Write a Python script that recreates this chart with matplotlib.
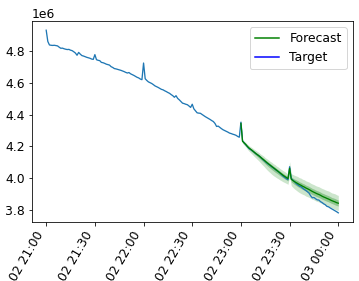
import matplotlib
matplotlib.use("Agg")
import matplotlib.pyplot as plt
import matplotlib.dates as mdates
from matplotlib.lines import Line2D
import pandas as pd
import numpy as np

plt.rcParams["font.size"] = 12.4

start = "2021-01-02 21:00"
fc_start = "2021-01-02 23:00"

target = [
    4.933, 4.862, 4.840, 4.838, 4.837, 4.838, 4.836, 4.834, 4.826, 4.819,
    4.820, 4.816, 4.813, 4.811, 4.812, 4.807, 4.804, 4.797, 4.789, 4.775,
    4.793, 4.782, 4.773, 4.770, 4.766, 4.762, 4.759, 4.756, 4.751, 4.749,
    4.779, 4.747, 4.743, 4.741, 4.730, 4.728, 4.724, 4.719, 4.716, 4.713,
    4.703, 4.698, 4.691, 4.689, 4.686, 4.683, 4.680, 4.676, 4.672, 4.667,
    4.663, 4.666, 4.658, 4.653, 4.648, 4.642, 4.636, 4.632, 4.625, 4.621,
    4.726, 4.627, 4.616, 4.607, 4.602, 4.597, 4.590, 4.582, 4.577, 4.572,
    4.566, 4.560, 4.557, 4.551, 4.546, 4.540, 4.535, 4.527, 4.520, 4.510,
    4.520, 4.503, 4.494, 4.483, 4.473, 4.470, 4.466, 4.463, 4.455, 4.446,
    4.466, 4.437, 4.425, 4.412, 4.410, 4.409, 4.402, 4.395, 4.388, 4.382,
    4.376, 4.370, 4.363, 4.357, 4.345, 4.326, 4.328, 4.320, 4.312, 4.305,
    4.300, 4.295, 4.290, 4.284, 4.281, 4.277, 4.274, 4.270, 4.263, 4.258,
    4.353, 4.235, 4.222, 4.210, 4.198, 4.186, 4.180, 4.172, 4.165, 4.155,
    4.148, 4.142, 4.132, 4.122, 4.113, 4.104, 4.095, 4.087, 4.080, 4.071,
    4.064, 4.056, 4.048, 4.041, 4.032, 4.022, 4.012, 4.004, 3.996, 3.990,
    4.072, 3.998, 3.988, 3.978, 3.966, 3.958, 3.950, 3.946, 3.937, 3.929,
    3.922, 3.914, 3.905, 3.888, 3.876, 3.878, 3.870, 3.863, 3.862, 3.852,
    3.846, 3.838, 3.832, 3.822, 3.819, 3.812, 3.806, 3.800, 3.794, 3.788,
    3.781,
]

forecast_median = [
    4.345, 4.232, 4.222, 4.212, 4.200, 4.190, 4.182, 4.174, 4.165, 4.157,
    4.149, 4.141, 4.133, 4.124, 4.116, 4.107, 4.098, 4.090, 4.082, 4.074,
    4.066, 4.058, 4.050, 4.042, 4.034, 4.026, 4.018, 4.011, 4.004, 3.997,
    4.062, 3.993, 3.985, 3.978, 3.972, 3.966, 3.960, 3.955, 3.949, 3.944,
    3.938, 3.933, 3.928, 3.922, 3.916, 3.911, 3.906, 3.901, 3.897, 3.892,
    3.886, 3.881, 3.877, 3.872, 3.868, 3.863, 3.858, 3.854, 3.850, 3.845,
    3.842,
]

# distances of the interval edges from the median
up90 = [
    0.030, 0.010, 0.012, 0.013, 0.014, 0.015, 0.016, 0.017, 0.018, 0.019,
    0.020, 0.021, 0.020, 0.022, 0.023, 0.022, 0.024, 0.025, 0.024, 0.026,
    0.025, 0.027, 0.026, 0.028, 0.027, 0.028, 0.029, 0.030, 0.029, 0.031,
    0.042, 0.035, 0.038, 0.040, 0.042, 0.044, 0.043, 0.045, 0.044, 0.046,
    0.045, 0.046, 0.047, 0.046, 0.047, 0.048, 0.047, 0.048, 0.049, 0.048,
    0.049, 0.050, 0.049, 0.050, 0.051, 0.050, 0.049, 0.050, 0.051, 0.050,
    0.049,
]
dn90 = [
    0.030, 0.012, 0.014, 0.016, 0.018, 0.020, 0.022, 0.024, 0.026, 0.028,
    0.030, 0.032, 0.035, 0.038, 0.040, 0.043, 0.045, 0.047, 0.048, 0.050,
    0.050, 0.049, 0.048, 0.046, 0.045, 0.043, 0.041, 0.039, 0.037, 0.036,
    0.050, 0.040, 0.043, 0.046, 0.048, 0.050, 0.051, 0.052, 0.051, 0.050,
    0.051, 0.050, 0.049, 0.050, 0.049, 0.048, 0.049, 0.048, 0.047, 0.048,
    0.047, 0.046, 0.047, 0.046, 0.045, 0.046, 0.045, 0.046, 0.047, 0.046,
    0.046,
]
up50 = [
    0.012, 0.004, 0.005, 0.005, 0.006, 0.006, 0.006, 0.007, 0.007, 0.008,
    0.008, 0.008, 0.008, 0.009, 0.009, 0.009, 0.010, 0.010, 0.010, 0.010,
    0.010, 0.011, 0.011, 0.011, 0.011, 0.011, 0.012, 0.012, 0.012, 0.012,
    0.017, 0.014, 0.015, 0.016, 0.017, 0.018, 0.017, 0.018, 0.018, 0.019,
    0.018, 0.019, 0.019, 0.019, 0.019, 0.020, 0.019, 0.020, 0.020, 0.020,
    0.020, 0.021, 0.020, 0.021, 0.021, 0.021, 0.020, 0.021, 0.021, 0.021,
    0.020,
]
dn50 = [
    0.012, 0.005, 0.006, 0.006, 0.007, 0.008, 0.009, 0.010, 0.010, 0.011,
    0.012, 0.013, 0.014, 0.015, 0.016, 0.017, 0.018, 0.019, 0.019, 0.020,
    0.020, 0.020, 0.019, 0.018, 0.018, 0.017, 0.016, 0.016, 0.015, 0.014,
    0.020, 0.016, 0.017, 0.018, 0.019, 0.020, 0.020, 0.021, 0.020, 0.020,
    0.020, 0.020, 0.020, 0.020, 0.020, 0.019, 0.020, 0.019, 0.019, 0.019,
    0.019, 0.018, 0.019, 0.018, 0.018, 0.018, 0.018, 0.018, 0.019, 0.018,
    0.018,
]

legend_labels = ["Forecast", "Target"]

scale = 1e6
t_idx = pd.date_range(start, periods=len(target), freq="min")
f_idx = pd.date_range(fc_start, periods=len(forecast_median), freq="min")
tv = np.array(target) * scale
fm = np.array(forecast_median)
lo90 = (fm - np.array(dn90)) * scale
hi90 = (fm + np.array(up90)) * scale
lo50 = (fm - np.array(dn50)) * scale
hi50 = (fm + np.array(up50)) * scale

fig = plt.figure(figsize=(359 / 72, 281 / 72), dpi=72)
ax = fig.add_axes([0.088, 0.21, 0.895, 0.715])

ax.plot(t_idx, tv, color="#1f77b4", lw=1.3)
ax.fill_between(f_idx, lo90, hi90, color="g", alpha=0.2, lw=0)
ax.fill_between(f_idx, lo50, hi50, color="g", alpha=0.3, lw=0)
ax.plot(f_idx, fm * scale, color="g", lw=1.3)

ax.xaxis.set_major_locator(mdates.MinuteLocator(byminute=[0, 30]))
ax.xaxis.set_major_formatter(mdates.DateFormatter("%d %H:%M"))
plt.setp(ax.get_xticklabels(), rotation=60, ha="right")

handles = [Line2D([], [], color="g"), Line2D([], [], color="b")]
ax.legend(handles, legend_labels, loc="upper right")

fig.savefig("out.png", dpi=72)
